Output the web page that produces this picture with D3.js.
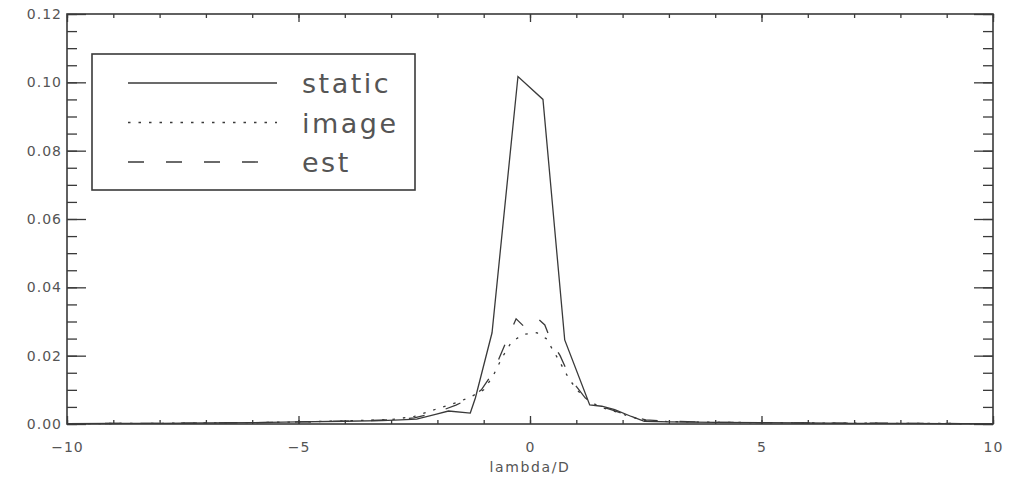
<!DOCTYPE html>
<html lang="en">
<head>
<meta charset="UTF-8">
<title>lambda/D profile</title>
<script src="https://d3js.org/d3.v7.min.js"></script>
<style>
  body { margin: 0; background: #fff; }
  text { font-family: "DejaVu Sans", sans-serif; fill: #555; }
</style>
</head>
<body>
<div id="main"></div>
<script>
// data
var xTicks = [-10, -5, 0, 5, 10]
var yTicks = [0, 0.02, 0.04, 0.06, 0.08, 0.10, 0.12]

var staticX = [-10, -9, -8, -7, -6, -5, -4, -3.2, -2.8, -2.45, -2.04, -1.76, -1.29, -1.18, -0.82, -0.26, 0.28, 0.75, 1.29, 1.55, 1.83, 2.19, 2.47, 3, 4, 5, 6, 7, 8, 9, 10]
var staticY = [0.0001, 0.0002, 0.0002, 0.0003, 0.0004, 0.0006, 0.0008, 0.0010, 0.0012, 0.0014, 0.0028, 0.0038, 0.0032, 0.0076, 0.0267, 0.1017, 0.0950, 0.0246, 0.0056, 0.0052, 0.0042, 0.0022, 0.0008, 0.0006, 0.0005, 0.0004, 0.0003, 0.0002, 0.0002, 0.0001, 0.0001]

var imageX = [-10, -8, -6, -5, -4, -3, -2.5, -2.0, -1.6, -1.3, -1.0, -0.8, -0.6, -0.4, -0.15, 0.15, 0.35, 0.5, 0.65, 0.85, 1.05, 1.25, 1.5, 1.8, 2.2, 2.5, 3, 4, 5, 6, 8, 10]
var imageY = [0.0001, 0.0002, 0.0004, 0.0006, 0.0009, 0.0013, 0.0022, 0.0045, 0.0062, 0.0078, 0.0100, 0.0140, 0.0195, 0.0240, 0.0262, 0.0267, 0.0250, 0.0215, 0.0180, 0.0130, 0.0095, 0.0070, 0.0050, 0.0038, 0.0020, 0.0010, 0.0007, 0.0005, 0.0004, 0.0003, 0.0002, 0.0001]

var estX = [-10, -8, -6, -5, -4, -3, -2.5, -2.0, -1.6, -1.3, -1.05, -0.8, -0.55, -0.3, -0.05, 0.2, 0.32, 0.45, 0.65, 0.8, 1.0, 1.2, 1.45, 1.8, 2.2, 2.5, 3, 4, 5, 6, 8, 10]
var estY = [0.0001, 0.0002, 0.0004, 0.0006, 0.0008, 0.0012, 0.0018, 0.0035, 0.0055, 0.0075, 0.0100, 0.0150, 0.0230, 0.0308, 0.0275, 0.0305, 0.0290, 0.0245, 0.0200, 0.0155, 0.0110, 0.0075, 0.0055, 0.0040, 0.0022, 0.0012, 0.0008, 0.0005, 0.0004, 0.0003, 0.0002, 0.0001]

var legendNames = ['static', 'image', 'est']
var dashes = [null, '2.5,8', '16,22']

var width = 1012, height = 478
var mLeft = 67, mRight = 993, mTop = 14, mBottom = 424
var ink = '#3a3a3a'

var svg = d3.select('#main').append('svg')
    .attr('width', width)
    .attr('height', height)

var x = d3.scaleLinear().domain([-10, 10]).range([mLeft, mRight])
var y = d3.scaleLinear().domain([0, 0.12]).range([mBottom, mTop])

var minorX = d3.range(-10, 10.01, 1)
var minorY = d3.range(0, 0.1201, 0.005)

// ticks on all four sides, pointing inwards (negative size)
var axes = [
    [d3.axisBottom(x), `translate(0,${mBottom})`, minorX, 4, '', 0],
    [d3.axisBottom(x), `translate(0,${mBottom})`, xTicks, 8, d3.format('d'), 18],
    [d3.axisTop(x), `translate(0,${mTop})`, minorX, 4, '', 0],
    [d3.axisTop(x), `translate(0,${mTop})`, xTicks, 8, '', 0],
    [d3.axisLeft(y), `translate(${mLeft},0)`, minorY, 10, '', 0],
    [d3.axisLeft(y), `translate(${mLeft},0)`, yTicks, 19, d3.format('.2f'), 5],
    [d3.axisRight(y), `translate(${mRight},0)`, minorY, 10, '', 0],
    [d3.axisRight(y), `translate(${mRight},0)`, yTicks, 19, '', 0]
]
axes.forEach(function (a) {
    var ax = a[0].tickValues(a[2]).tickSize(-a[3]).tickPadding(a[5]).tickFormat(a[4])
    var g = svg.append('g').attr('transform', a[1]).call(ax)
    g.select('.domain').remove()
    g.selectAll('line').attr('stroke', ink).attr('stroke-width', 1.3)
    g.selectAll('text').attr('font-size', 14).attr('letter-spacing', 1)
        .style('font-family', '"DejaVu Sans", sans-serif').attr('fill', '#555')
})

// frame
svg.append('rect')
    .attr('x', mLeft).attr('y', mTop)
    .attr('width', mRight - mLeft).attr('height', mBottom - mTop)
    .attr('fill', 'none').attr('stroke', ink).attr('stroke-width', 1.6)

svg.append('text')
    .attr('x', x(0)).attr('y', 472)
    .attr('text-anchor', 'middle')
    .attr('font-size', 14).attr('letter-spacing', 1.6)
    .text('lambda/D')

// curves
var line = d3.line().x(d => x(d[0])).y(d => y(d[1]))
var series = [d3.zip(staticX, staticY), d3.zip(imageX, imageY), d3.zip(estX, estY)]
series.forEach(function (s, i) {
    svg.append('path')
        .attr('d', line(s))
        .attr('fill', 'none')
        .attr('stroke', ink)
        .attr('stroke-width', 1.3)
        .attr('stroke-dasharray', dashes[i])
})

// legend
svg.append('rect')
    .attr('x', 92).attr('y', 54).attr('width', 323).attr('height', 136)
    .attr('fill', '#fff').attr('stroke', ink).attr('stroke-width', 1.6)
legendNames.forEach(function (n, i) {
    var ly = 83 + i * 39.5
    svg.append('line')
        .attr('x1', 128).attr('x2', 277).attr('y1', ly).attr('y2', ly)
        .attr('stroke', ink).attr('stroke-width', 1.4)
        .attr('stroke-dasharray', dashes[i])
    svg.append('text')
        .attr('x', 302).attr('y', ly + 10)
        .attr('font-size', 27).attr('letter-spacing', 2.5)
        .text(n)
})
</script>
</body>
</html>
